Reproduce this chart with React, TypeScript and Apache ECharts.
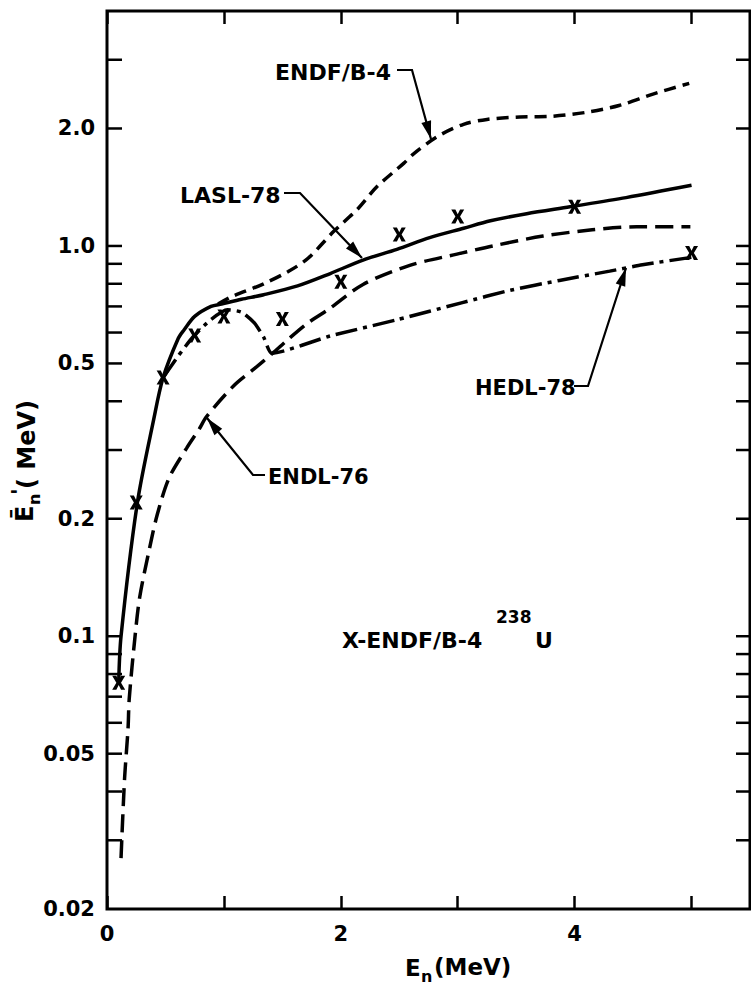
import React, { useEffect, useRef } from "react";
import * as echarts from "echarts";

// ---- data ----
const LASL_X = [0.10, 0.12, 0.26, 0.40, 0.48, 0.61, 0.66, 0.75, 0.89, 0.98, 1.15, 1.34, 1.63, 1.91, 2.19, 2.48, 2.76, 3.05, 3.28, 3.59, 3.96, 4.44, 5.00];
const LASL_Y = [0.076, 0.10, 0.22, 0.36, 0.46, 0.58, 0.61, 0.66, 0.70, 0.71, 0.73, 0.75, 0.79, 0.85, 0.92, 0.98, 1.05, 1.11, 1.16, 1.21, 1.26, 1.33, 1.43];

const ENDF_X = [0.95, 1.06, 1.34, 1.55, 1.72, 1.94, 2.14, 2.31, 2.54, 2.62, 2.83, 3.05, 3.25, 3.53, 3.81, 4.10, 4.38, 4.67, 4.98];
const ENDF_Y = [0.71, 0.74, 0.80, 0.86, 0.93, 1.09, 1.24, 1.42, 1.63, 1.72, 1.91, 2.05, 2.11, 2.14, 2.15, 2.20, 2.29, 2.45, 2.61];

const ENDL_X = [0.12, 0.15, 0.18, 0.19, 0.24, 0.28, 0.36, 0.43, 0.53, 0.68, 0.79, 0.85, 1.08, 1.25, 1.42, 1.54, 1.71, 1.91, 2.19, 2.59, 3.04, 3.30, 3.73, 4.15, 4.53, 4.99];
const ENDL_Y = [0.027, 0.043, 0.058, 0.069, 0.10, 0.126, 0.166, 0.205, 0.254, 0.303, 0.34, 0.365, 0.437, 0.482, 0.532, 0.573, 0.632, 0.693, 0.797, 0.892, 0.96, 1.00, 1.06, 1.10, 1.12, 1.12];

const HEDL_X = [0.48, 0.61, 0.74, 0.89, 1.03, 1.15, 1.26, 1.34, 1.41, 1.91, 2.48, 3.04, 3.45, 3.87, 4.30, 4.58, 5.00];
const HEDL_Y = [0.46, 0.523, 0.587, 0.648, 0.686, 0.677, 0.635, 0.584, 0.531, 0.588, 0.647, 0.716, 0.770, 0.816, 0.862, 0.895, 0.935];

const MARK_X = [0.1, 0.25, 0.48, 0.75, 1.0, 1.5, 2.0, 2.5, 3.0, 4.0, 5.0];
const MARK_Y = [0.076, 0.22, 0.46, 0.59, 0.66, 0.65, 0.81, 1.07, 1.19, 1.26, 0.96];

const Y_TICKS = [3, 2, 1, 0.9, 0.8, 0.7, 0.6, 0.5, 0.4, 0.3, 0.2, 0.1, 0.09, 0.08, 0.07, 0.06, 0.05, 0.04, 0.03];
const Y_LABEL_VALUES = [2, 1, 0.5, 0.2, 0.1, 0.05, 0.02];
const Y_LABELS = ["2.0", "1.0", "0.5", "0.2", "0.1", "0.05", "0.02"];
const X_LABELED = [0, 2, 4];

const FONT = "DejaVu Sans";
const zip = (xs: number[], ys: number[]) => xs.map((x, i) => [x, ys[i]]);

function arrowHead(sx: number, sy: number, tx: number, ty: number, len = 18, hw = 5) {
  const dx = tx - sx, dy = ty - sy;
  const d = Math.hypot(dx, dy);
  const ux = dx / d, uy = dy / d;
  const bx = tx - ux * len, by = ty - uy * len;
  return {
    type: "polygon",
    shape: { points: [[tx, ty], [bx - uy * hw, by + ux * hw], [bx + uy * hw, by - ux * hw]] },
    style: { fill: "#000" },
  };
}

function leader(points: number[][]) {
  const n = points.length;
  const [sx, sy] = points[n - 2];
  const [tx, ty] = points[n - 1];
  return [
    { type: "polyline", shape: { points }, style: { stroke: "#000", lineWidth: 2.2, fill: null } },
    arrowHead(sx, sy, tx, ty),
  ];
}

function label(text: string, x: number, y: number, size = 21) {
  return {
    type: "text",
    x,
    y,
    style: {
      text,
      fontSize: size,
      fontWeight: "bold",
      fontFamily: FONT,
      fill: "#000",
      align: "left",
      verticalAlign: "middle",
      textAlign: "left",
      textVerticalAlign: "middle",
    },
  };
}

export default function App() {
  const ref = useRef<HTMLDivElement>(null);
  useEffect(() => {
    if (!ref.current) return;
    const chart = echarts.init(ref.current, undefined, { renderer: "svg" });
    const xAxisBase = {
      type: "value",
      min: 0,
      max: 5.5,
      interval: 1,
      splitLine: { show: false },
      axisLine: { show: false },
      axisTick: { show: true, inside: true, length: 13, lineStyle: { color: "#000", width: 2.5 } },
    };
    const lineBase = {
      type: "line",
      showSymbol: false,
      smooth: 0.3,
      silent: true,
      z: 3,
    };
    chart.setOption({
      animation: false,
      backgroundColor: "#fff",
      grid: { left: 107, right: 1, top: 11, bottom: 81, show: true, borderColor: "#000", borderWidth: 3, backgroundColor: "transparent" },
      xAxis: [
        {
          ...xAxisBase,
          position: "bottom",
          axisLabel: {
            show: true,
            margin: 14,
            showMaxLabel: false,
            formatter: (v: number) => (X_LABELED.includes(v) ? String(v) : ""),
            fontSize: 21,
            fontWeight: "bold",
            fontFamily: FONT,
            color: "#000",
          },
        },
        { ...xAxisBase, position: "top", axisLabel: { show: false } },
      ],
      yAxis: {
        type: "log",
        logBase: 10,
        min: 0.02,
        max: 4,
        axisLine: { show: false },
        axisTick: { show: false },
        axisLabel: { show: false },
        splitLine: { show: false },
      },
      series: [
        { ...lineBase, name: "LASL-78", data: zip(LASL_X, LASL_Y), lineStyle: { color: "#000", width: 3.5 } },
        { ...lineBase, name: "ENDF/B-4", data: zip(ENDF_X, ENDF_Y), lineStyle: { color: "#000", width: 3.5, type: [12, 7] } },
        { ...lineBase, name: "ENDL-76", data: zip(ENDL_X, ENDL_Y), lineStyle: { color: "#000", width: 3.5, type: [18, 8] } },
        { ...lineBase, name: "HEDL-78", smooth: 0.2, data: zip(HEDL_X, HEDL_Y), lineStyle: { color: "#000", width: 3.5, type: [22, 6, 4, 6] } },
        {
          type: "scatter",
          name: "X-ENDF/B-4 238U",
          data: zip(MARK_X, MARK_Y),
          symbol: "path://M0,0L3.2,0L5,3.4L6.8,0L10,0L6.8,5L10,10L6.8,10L5,6.6L3.2,10L0,10L3.2,5Z",
          symbolSize: [13, 14],
          itemStyle: { color: "#000", opacity: 1 },
          silent: true,
          z: 4,
        },
        {
          type: "custom",
          name: "yticks",
          silent: true,
          clip: false,
          data: Y_TICKS.map((v) => [0, v]),
          encode: { x: 0, y: 1 },
          renderItem: (params: any, api: any) => {
            const y = api.coord([0, api.value(1)])[1];
            const cs = params.coordSys;
            const l = cs.x, r = cs.x + cs.width;
            return {
              type: "group",
              children: [
                { type: "line", shape: { x1: l, y1: y, x2: l + 15, y2: y }, style: { stroke: "#000", lineWidth: 2.5 } },
                { type: "line", shape: { x1: r - 14, y1: y, x2: r, y2: y }, style: { stroke: "#000", lineWidth: 2.5 } },
              ],
            };
          },
        },
        {
          type: "custom",
          name: "ylabels",
          silent: true,
          clip: false,
          data: Y_LABEL_VALUES.map((v) => [0, v]),
          encode: { x: 0, y: 1 },
          renderItem: (params: any, api: any) => {
            const y = api.coord([0, api.value(1)])[1];
            const cs = params.coordSys;
            return {
              type: "text",
              x: cs.x - 12,
              y,
              style: {
                text: Y_LABELS[params.dataIndex],
                fontSize: 21,
                fontWeight: "bold",
                fontFamily: FONT,
                fill: "#000",
                align: "right",
                verticalAlign: "middle",
                textAlign: "right",
                textVerticalAlign: "middle",
              },
            };
          },
        },
      ],
      graphic: [
        label("ENDF/B-4", 275, 72, 22),
        ...leader([[397, 70], [412, 70], [431, 139]]),
        label("LASL-78", 180, 195, 22),
        ...leader([[284, 193], [300, 193], [362, 258]]),
        label("ENDL-76", 268, 477),
        ...leader([[265, 475], [253, 475], [207, 418]]),
        label("HEDL-78", 475, 388),
        ...leader([[574, 386], [588, 386], [626, 268]]),
        label("X-ENDF/B-4", 342, 640, 22),
        label("238", 496, 617, 17),
        label("U", 535, 640, 22),
        // x axis title
        label("E", 405, 968, 23),
        label("n", 421, 976, 16),
        label("(MeV)", 434, 967, 23),
        // y axis title (rotated)
        {
          type: "group",
          x: 27,
          y: 522,
          rotation: Math.PI / 2,
          children: [
            label("\u0112", 0, -2, 24),
            label("n", 17, 7, 16),
            label("'", 27, -8, 22),
            label("( MeV)", 33, 0, 24),
          ],
        },
      ],
    });
    return () => chart.dispose();
  }, []);
  return (
    <div style={{ position: "absolute", left: 0, top: 0, width: 751, height: 990, background: "#fff" }}>
      <div ref={ref} style={{ width: 751, height: 990 }} />
    </div>
  );
}
